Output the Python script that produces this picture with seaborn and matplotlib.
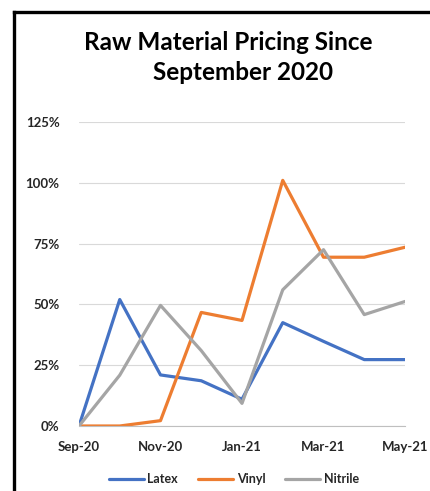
import matplotlib
matplotlib.use("Agg")
import matplotlib.pyplot as plt
from matplotlib.lines import Line2D
import seaborn as sns
import pandas as pd
import numpy as np

months = ["Sep-20", "Oct-20", "Nov-20", "Dec-20", "Jan-21", "Feb-21", "Mar-21", "Apr-21", "May-21"]
latex = [0.0, 0.52, 0.21, 0.186, 0.11, 0.425, 0.348, 0.273, 0.273]
vinyl = [0.0, 0.0, 0.022, 0.467, 0.434, 1.01, 0.694, 0.694, 0.735]
nitrile = [0.0, 0.209, 0.496, 0.31, 0.093, 0.56, 0.725, 0.458, 0.512]
series_names = ["Latex", "Vinyl", "Nitrile"]
colors = ["#4472C4", "#ED7D31", "#A5A5A5"]
yticks = [0, 0.25, 0.5, 0.75, 1.0, 1.25]
ytick_labels = ["0%", "25%", "50%", "75%", "100%", "125%"]
xtick_labels = ["Sep-20", "", "Nov-20", "", "Jan-21", "", "Mar-21", "", "May-21"]

df = pd.DataFrame({
    "idx": list(range(len(months))) * 3,
    "value": latex + vinyl + nitrile,
    "series": sum([[n] * len(months) for n in series_names], []),
})

sns.set_theme(style="white")
plt.rcParams["font.family"] = ["Lato", "DejaVu Sans"]

W, H = 430, 491
fig = plt.figure(figsize=(W / 100, H / 100), dpi=100)
fig.patch.set_facecolor("white")

ax = fig.add_axes([79 / W, (H - 426) / H, 326 / W, 304 / H])
sns.lineplot(data=df, x="idx", y="value", hue="series", hue_order=series_names,
             palette=colors, linewidth=2.3, ax=ax, legend=False)

ax.set_xlim(0, 8)
ax.set_ylim(0, 1.25)
ax.set_yticks(yticks)
ax.set_yticklabels(ytick_labels, fontsize=9.5, fontweight="bold", color="#262626")
ax.set_xticks(range(len(months)))
ax.set_xticklabels(xtick_labels, fontsize=9.5, fontweight="bold", color="#262626")
ax.set_xlabel("")
ax.set_ylabel("")
ax.grid(axis="y", color="#D9D9D9", linewidth=0.8)
ax.grid(axis="x", visible=False)
for s in ["top", "right", "left"]:
    ax.spines[s].set_visible(False)
ax.spines["bottom"].set_color("#BFBFBF")
ax.spines["bottom"].set_linewidth(0.8)
ax.tick_params(axis="y", length=0, pad=14)
ax.tick_params(axis="x", length=5, width=0.8, color="#BFBFBF", pad=6, direction="out")
ax.set_axisbelow(True)

# Title
fig.text(228 / W, 1 - 43 / H, "Raw Material Pricing Since", ha="center", va="center",
         fontsize=17.5, fontweight="bold", color="#000000")
fig.text(243 / W, 1 - 72 / H, "September 2020", ha="center", va="center",
         fontsize=17.5, fontweight="bold", color="#000000")

# Legend
handles = [Line2D([0], [0], color=c, linewidth=2.3) for c in colors]
fig.legend(handles, series_names, loc="center", bbox_to_anchor=(234 / W, 1 - 479 / H),
           ncol=3, frameon=False, handlelength=2.8, columnspacing=1.6,
           handletextpad=0.3, prop={"weight": "bold", "size": 9})

# Outer border (cut off at right and bottom)
fig.add_artist(Line2D([13.5 / W, 13.5 / W], [0, 1 - 12 / H], color="black",
                      linewidth=2.4, transform=fig.transFigure, solid_capstyle="projecting"))
fig.add_artist(Line2D([13.5 / W, 1.0], [1 - 12 / H, 1 - 12 / H], color="black",
                      linewidth=2.4, transform=fig.transFigure, solid_capstyle="projecting"))

fig.savefig("out.png", dpi=100, facecolor="white")
